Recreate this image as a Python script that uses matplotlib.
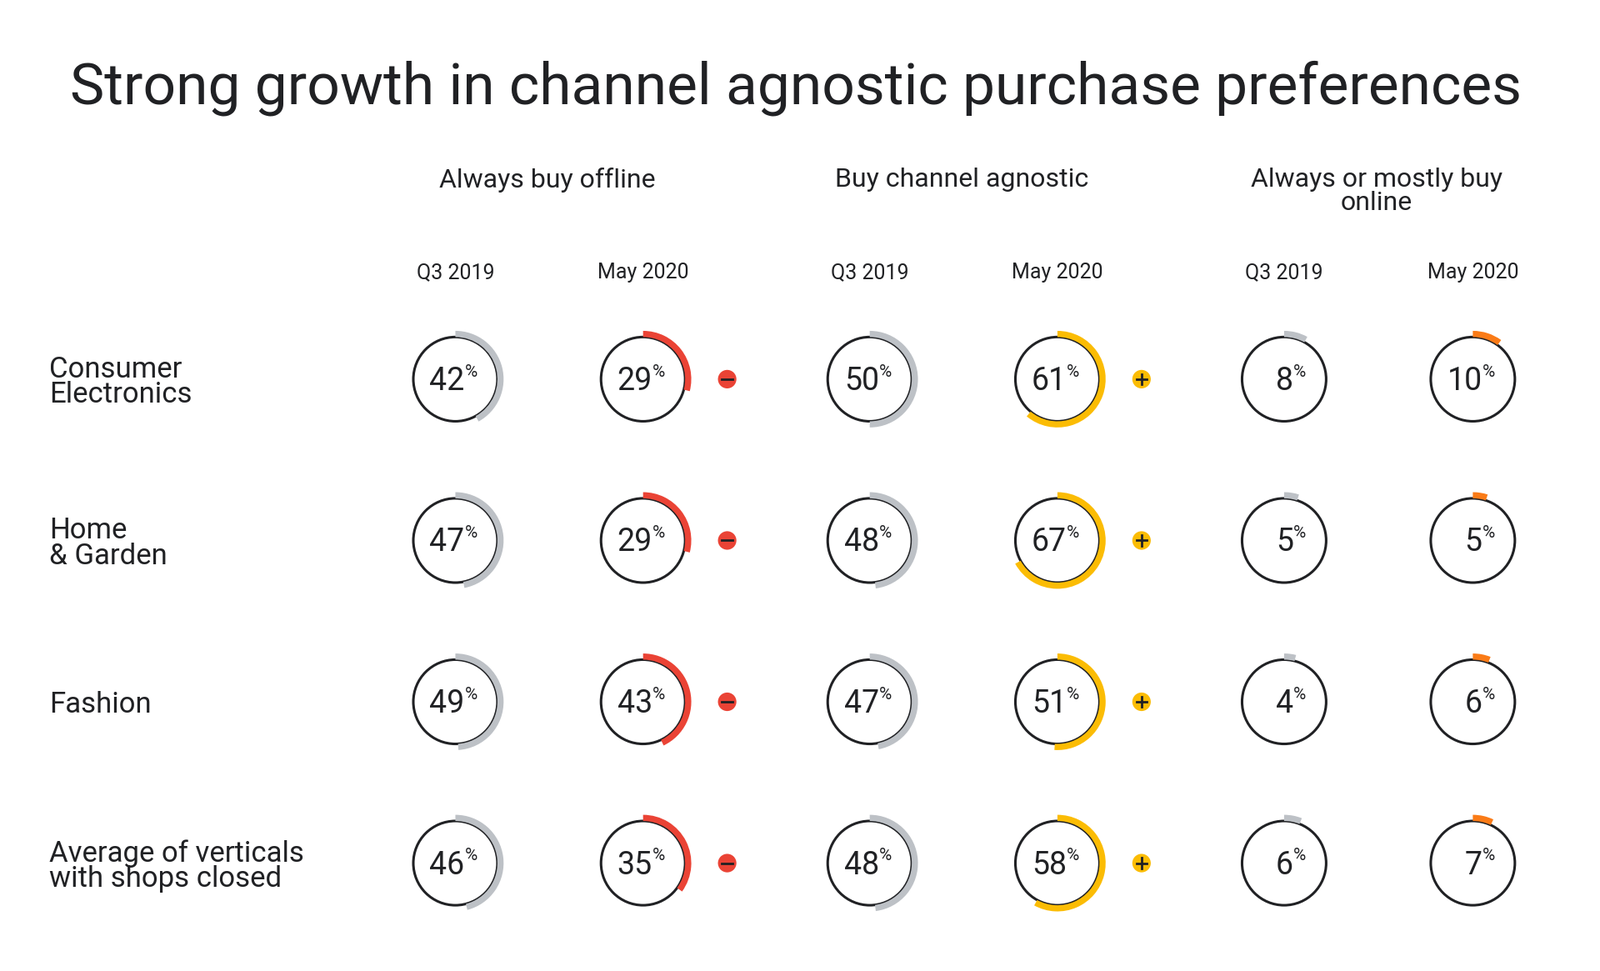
import matplotlib.pyplot as plt
from matplotlib.patches import Circle, Wedge

rows = ["Consumer\nElectronics", "Home\n& Garden", "Fashion", "Average of verticals\nwith shops closed"]
groups = ["Always buy offline", "Buy channel agnostic", "Always or mostly buy\nonline"]
periods = ["Q3 2019", "May 2020"]

offline_2019 = [42, 47, 49, 46]
offline_2020 = [29, 29, 43, 35]
agnostic_2019 = [50, 48, 47, 48]
agnostic_2020 = [61, 67, 51, 58]
online_2019 = [8, 5, 4, 6]
online_2020 = [10, 5, 6, 7]

series = [offline_2019, offline_2020, agnostic_2019, agnostic_2020, online_2019, online_2020]
arc_colors = ["#bdc1c6", "#ea4335", "#bdc1c6", "#fbbc04", "#bdc1c6", "#fa7b17"]

FONT = "Roboto"
W, H = 1560, 945
col_x = [444, 627, 848, 1031, 1252, 1436]
row_y = [369, 526, 683, 840]
R = 41

fig = plt.figure(figsize=(19.2, 11.65), dpi=100)
ax = fig.add_axes([0, 0, 1, 1])
ax.set_xlim(0, W)
ax.set_ylim(H, 0)
ax.axis("off")

ax.text(776, 86, "Strong growth in channel agnostic purchase preferences",
        ha="center", va="center", fontsize=50, fontname=FONT, color="#202124")

for g, name in enumerate(groups):
    cx = (col_x[2 * g] + col_x[2 * g + 1]) / 2 - 2
    ax.text(cx, 163, name, ha="center", va="top", fontsize=23,
            fontname=FONT, color="#202124", linespacing=0.95)
    for p in range(2):
        ax.text(col_x[2 * g + p], 265, periods[p], ha="center", va="center",
                fontsize=18, fontname=FONT, color="#202124")

for r, label in enumerate(rows):
    ax.text(48, row_y[r] + 3, label, ha="left", va="center", fontsize=25,
            fontname=FONT, color="#202124", linespacing=0.9)
    for c, vals in enumerate(series):
        x, y = col_x[c], row_y[r]
        v = vals[r]
        ax.add_patch(Circle((x, y), R, fill=False, ec="#202124", lw=2.2))
        # y is inverted: clockwise from top on screen
        ax.add_patch(Wedge((x, y), R + 6, 270, 270 + 360 * v / 100, width=6,
                           fc=arc_colors[c], ec="none"))
        ax.text(x + 9, y + 2, f"{v}", ha="right", va="center", fontsize=27,
                fontname=FONT, color="#202124")
        ax.text(x + 9, y - 7, "%", ha="left", va="center", fontsize=15,
                fontname=FONT, color="#202124")
    ax.add_patch(Circle((709, row_y[r]), 9, fc="#ea4335", ec="none"))
    ax.plot([704, 714], [row_y[r], row_y[r]], color="#202124", lw=2)
    ax.add_patch(Circle((1113, row_y[r]), 9, fc="#fbbc04", ec="none"))
    ax.plot([1108, 1118], [row_y[r], row_y[r]], color="#202124", lw=2)
    ax.plot([1113, 1113], [row_y[r] - 5, row_y[r] + 5], color="#202124", lw=2)

fig.savefig("out.png", dpi=100, facecolor="white")
